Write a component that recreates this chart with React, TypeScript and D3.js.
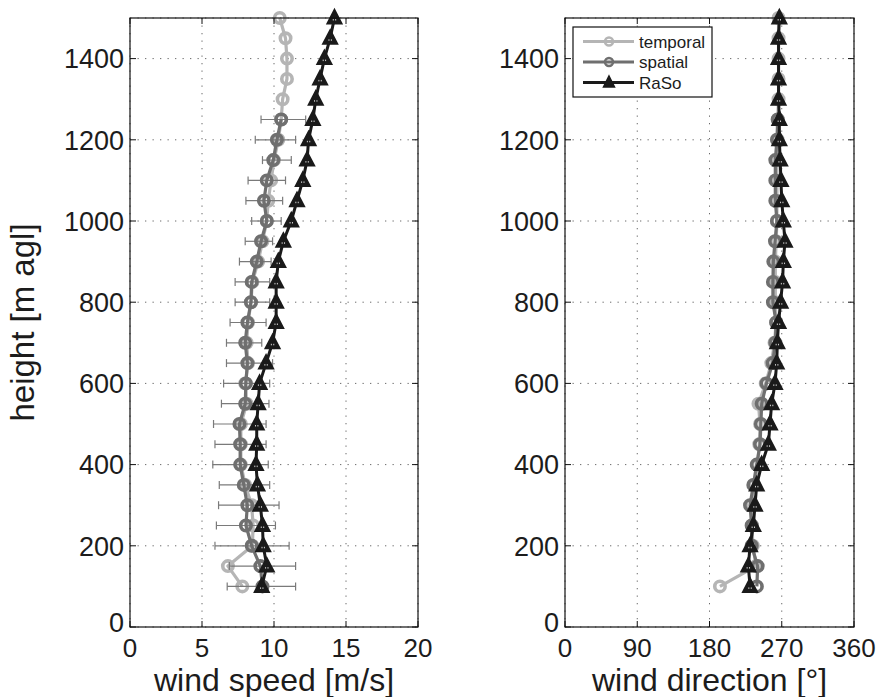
import React from "react";
import * as d3 from "d3";

// ---------- data ----------
const heights = [100, 150, 200, 250, 300, 350, 400, 450, 500, 550, 600, 650, 700, 750, 800, 850, 900, 950, 1000, 1050, 1100, 1150, 1200, 1250, 1300, 1350, 1400, 1450, 1500];
const spatialHeights = [100, 150, 200, 250, 300, 350, 400, 450, 500, 550, 600, 650, 700, 750, 800, 850, 900, 950, 1000, 1050, 1100, 1150, 1200, 1250];

const temporalSpeed = [7.8, 6.8, 8.5, 8.55, 8.45, 8.0, 7.7, 7.7, 7.7, 8.1, 8.0, 8.2, 8.1, 8.2, 8.4, 8.5, 8.9, 9.2, 9.5, 9.6, 9.8, 10.0, 10.3, 10.5, 10.6, 10.9, 10.9, 10.8, 10.4];
const spatialSpeed = [9.2, 9.05, 8.45, 8.05, 8.15, 7.9, 7.65, 7.65, 7.6, 8.0, 8.05, 8.15, 8.0, 8.15, 8.4, 8.45, 8.8, 9.1, 9.5, 9.3, 9.5, 9.95, 10.2, 10.5];
const spatialSpeedLow = [6.75, 6.9, 5.9, 6.0, 6.15, 6.2, 5.75, 5.9, 5.8, 6.35, 6.5, 6.7, 6.7, 6.95, 7.3, 7.3, 7.6, 8.0, 8.45, 8.05, 8.2, 9.2, 8.7, 9.1];
const spatialSpeedHigh = [11.5, 11.5, 11.05, 10.1, 10.35, 9.7, 9.6, 9.45, 9.45, 9.65, 9.7, 9.9, 9.15, 9.45, 9.7, 9.7, 9.8, 9.9, 10.5, 10.6, 10.8, 11.2, 11.5, 12.2];
const rasoSpeed = [9.15, 9.5, 9.25, 9.2, 9.05, 8.85, 8.75, 8.8, 8.8, 8.9, 9.0, 9.45, 9.9, 10.15, 10.15, 10.15, 10.3, 10.65, 11.2, 11.6, 12.0, 12.3, 12.4, 12.7, 12.9, 13.2, 13.5, 13.9, 14.2];

const temporalDir = [193, 238, 234, 233, 232, 236, 240, 242, 243, 241, 250, 257, 261, 263, 262, 262, 262, 263, 264, 264, 264, 264, 265, 265, 266, 266, 266, 266, 266];
const spatialDir = [239, 240, 232.5, 232.5, 230.5, 234.6, 238.8, 243, 244, 245, 251, 258.7, 262, 263, 259, 259, 259.5, 261.6, 264, 262, 262, 262, 264, 265];
const rasoDir = [230.5, 228.4, 230.5, 234.6, 236.7, 238.8, 245, 253.3, 255.4, 257.4, 261.6, 263.7, 264.5, 266, 268.6, 271, 272, 274, 272, 270, 269, 268, 267, 267, 266, 266, 266, 266, 267];

const yTicks = [0, 200, 400, 600, 800, 1000, 1200, 1400];
const speedTicks = [0, 5, 10, 15, 20];
const dirTicks = [0, 90, 180, 270, 360];
const seriesNames = ["temporal", "spatial", "RaSo"];

// ---------- style ----------
const FONT = "'Liberation Sans', Arial, Helvetica, sans-serif";
const C_TEMP = "#b5b5b5";
const C_SPAT = "#6f6f6f";
const C_ERR = "#7a7a7a";
const C_RASO = "#1a1a1a";
const TEXT = "#1c1c1c";

const TOP = 18;
const BOTTOM = 627;

type Pt = [number, number];

function Circles({ pts, color, r = 5.2, sw = 3.6 }: { pts: Pt[]; color: string; r?: number; sw?: number }) {
  return (
    <g>
      {pts.map((p, i) => (
        <circle key={i} cx={p[0]} cy={p[1]} r={r} fill="none" stroke={color} strokeWidth={sw} />
      ))}
    </g>
  );
}

function Triangles({ pts, color }: { pts: Pt[]; color: string }) {
  const path = "M0,-8L7,5.5L-7,5.5Z";
  return (
    <g>
      {pts.map((p, i) => (
        <g key={i} transform={`translate(${p[0]},${p[1]})`}>
          <path d={path} fill={color} stroke={color} strokeWidth={2} strokeLinejoin="miter" />
          <line x1={-1.2} x2={-1.2} y1={1} y2={2.5} stroke="#fff" strokeWidth={0.8} />
          <line x1={1.2} x2={1.2} y1={1} y2={2.5} stroke="#fff" strokeWidth={0.8} />
        </g>
      ))}
    </g>
  );
}

function Panel({
  x0, x1, domain, xTicks, xLabel, temporal, spatial, raso, low, high, legend,
}: {
  x0: number; x1: number; domain: [number, number]; xTicks: number[]; xLabel: string;
  temporal: number[]; spatial: number[]; raso: number[]; low?: number[]; high?: number[]; legend?: boolean;
}) {
  const x = d3.scaleLinear().domain(domain).range([x0, x1]);
  const y = d3.scaleLinear().domain([0, 1500]).range([BOTTOM, TOP]);
  const line = d3.line<Pt>().x((d) => d[0]).y((d) => d[1]);

  const tPts: Pt[] = heights.map((h, i) => [x(temporal[i]), y(h)]);
  const sPts: Pt[] = spatialHeights.map((h, i) => [x(spatial[i]), y(h)]);
  const rPts: Pt[] = heights.map((h, i) => [x(raso[i]), y(h)]);

  const tickLen = 6;
  const gridDash = "1.3,6.2";
  const xMid = (x0 + x1) / 2;

  return (
    <g>
      {/* grid */}
      {xTicks.map((t, i) => (
        <line key={"gx" + i} x1={x(t)} x2={x(t)} y1={TOP} y2={BOTTOM} stroke="#6a6a6a" strokeWidth={1} strokeDasharray={gridDash} />
      ))}
      {yTicks.concat([1500]).map((t, i) => (
        <line key={"gy" + i} x1={x0} x2={x1} y1={y(t)} y2={y(t)} stroke="#6a6a6a" strokeWidth={1} strokeDasharray={gridDash} />
      ))}

      {/* temporal */}
      <path d={line(tPts) || ""} fill="none" stroke={C_TEMP} strokeWidth={3.2} strokeLinejoin="round" />
      <Circles pts={tPts} color={C_TEMP} />

      {/* spatial with error bars */}
      {low && high && spatialHeights.map((h, i) => (
        <g key={"eb" + i} stroke={C_ERR} strokeWidth={1.2}>
          <line x1={x(low[i])} x2={x(high[i])} y1={y(h)} y2={y(h)} />
          <line x1={x(low[i])} x2={x(low[i])} y1={y(h) - 4} y2={y(h) + 4} />
          <line x1={x(high[i])} x2={x(high[i])} y1={y(h) - 4} y2={y(h) + 4} />
        </g>
      ))}
      <path d={line(sPts) || ""} fill="none" stroke={C_SPAT} strokeWidth={3.2} strokeLinejoin="round" />
      <Circles pts={sPts} color={C_SPAT} />

      {/* RaSo */}
      <path d={line(rPts) || ""} fill="none" stroke={C_RASO} strokeWidth={3} strokeLinejoin="round" />
      <Triangles pts={rPts} color={C_RASO} />

      {/* frame */}
      <rect x={x0} y={TOP} width={x1 - x0} height={BOTTOM - TOP} fill="none" stroke="#111" strokeWidth={1.2} />

      {/* ticks */}
      {xTicks.map((t, i) => (
        <g key={"tx" + i} stroke="#111" strokeWidth={1}>
          <line x1={x(t)} x2={x(t)} y1={BOTTOM} y2={BOTTOM - tickLen} />
          <line x1={x(t)} x2={x(t)} y1={TOP} y2={TOP + tickLen} />
        </g>
      ))}
      {yTicks.map((t, i) => (
        <g key={"ty" + i} stroke="#111" strokeWidth={1}>
          <line x1={x0} x2={x0 + tickLen} y1={y(t)} y2={y(t)} />
          <line x1={x1} x2={x1 - tickLen} y1={y(t)} y2={y(t)} />
        </g>
      ))}

      {/* tick labels */}
      {xTicks.map((t, i) => (
        <text key={"lx" + i} x={x(t)} y={657} textAnchor="middle" fontSize={26} fontFamily={FONT} fill={TEXT}>
          {t}
        </text>
      ))}
      {yTicks.map((t, i) => (
        <text key={"ly" + i} x={x0 - 6} y={y(t)} dy={t === 0 ? "0.2em" : "0.36em"} textAnchor="end" fontSize={27} fontFamily={FONT} fill={TEXT}>
          {t}
        </text>
      ))}

      {/* x label */}
      <text x={xMid} y={691} textAnchor="middle" fontSize={32} fontFamily={FONT} fill={TEXT}>
        {xLabel}
      </text>

      {legend && (
        <g>
          <rect x={573} y={27} width={139} height={70} fill="#fff" stroke="#111" strokeWidth={1.2} />
          {seriesNames.map((name, i) => {
            const ly = 41.5 + i * 20.5;
            const col = [C_TEMP, C_SPAT, C_RASO][i];
            return (
              <g key={name}>
                <line x1={583} x2={634} y1={ly} y2={ly} stroke={col} strokeWidth={3} />
                {i < 2 ? (
                  <circle cx={609} cy={ly} r={4} fill="none" stroke={col} strokeWidth={2.5} />
                ) : (
                  <path d="M0,-6.5L5.5,4.5L-5.5,4.5Z" transform={`translate(609,${ly})`} fill={col} stroke={col} strokeWidth={1.5} />
                )}
                <text x={639} y={ly} dy="0.36em" fontSize={17} fontFamily={FONT} fill={TEXT}>
                  {name}
                </text>
              </g>
            );
          })}
        </g>
      )}
    </g>
  );
}

export default function App() {
  return (
    <svg width={880} height={697} style={{ position: "absolute", left: 0, top: 0, background: "#fff" }}>
      <rect x={0} y={0} width={880} height={697} fill="#fff" />
      <Panel
        x0={130} x1={418} domain={[0, 20]} xTicks={speedTicks} xLabel="wind speed [m/s]"
        temporal={temporalSpeed} spatial={spatialSpeed} raso={rasoSpeed}
        low={spatialSpeedLow} high={spatialSpeedHigh}
      />
      <Panel
        x0={565} x1={854} domain={[0, 360]} xTicks={dirTicks} xLabel="wind direction [°]"
        temporal={temporalDir} spatial={spatialDir} raso={rasoDir} legend
      />
      <text
        transform={`translate(34,${(TOP + BOTTOM) / 2}) rotate(-90)`}
        textAnchor="middle" fontSize={33} fontFamily={FONT} fill={TEXT}
      >
        height [m agl]
      </text>
    </svg>
  );
}
